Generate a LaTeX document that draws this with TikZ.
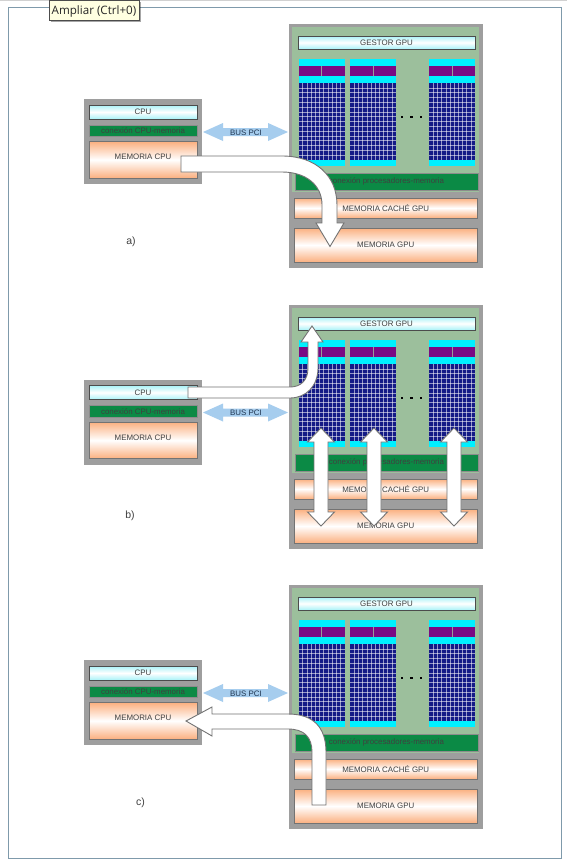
\documentclass[tikz,border=0pt]{standalone}
\usepackage{fontspec}
\setmainfont{Liberation Sans}
\newfontfamily\tipfont{Open Sans}
\usetikzlibrary{shadows}
\definecolor{grayframe}{HTML}{9E9E9E}
\definecolor{gpugreen}{HTML}{9CBF9C}
\definecolor{barGreen}{HTML}{0B8A45}
\definecolor{cyanband}{HTML}{00F0FF}
\definecolor{purpleband}{HTML}{7A0A84}
\definecolor{blueband}{HTML}{141A86}
\definecolor{orangeedge}{HTML}{FBB080}
\definecolor{cyanedge}{HTML}{A9F2F8}
\definecolor{busblue}{HTML}{A6CDEE}
\definecolor{frameblue}{HTML}{7F9AAB}
\definecolor{bustext}{HTML}{1F3550}
\tikzset{
  x=1pt,y=-1pt,
  every node/.style={inner sep=0pt,outer sep=0pt,font=\fontsize{7.9}{8}\selectfont,text=black!75},
  cpubox/.style={draw=black!70,line width=.7pt,top color=cyanedge,bottom color=cyanedge,middle color=white},
  membox/.style={draw=black!55,line width=.7pt,top color=orangeedge,bottom color=orangeedge,middle color=white},
  greenbar/.style={draw=black!45,line width=.5pt,fill=barGreen},
  bigarrow/.style={draw=black!55,line width=.9pt,fill=white,line join=miter},
  busarrow/.style={fill=busblue,draw=none},
  tag/.style={font=\fontsize{10.5}{11}\selectfont,text=black!75},
  dotmark/.style={fill=black,draw=none}
}
% box node: name, x0, y0, x1, y1, style, text
\newcommand{\bx}[7]{\path[#6] (#2,#3) rectangle (#4,#5);\node (#1) at ({(#2+#4)/2},{(#3+#5)/2}) {#7};}
\newcommand{\gpucol}[1]{% x left, width 46
  \fill[cyanband] (#1,59) rectangle ++(46,7);
  \fill[purpleband] (#1,66) rectangle ++(46,10);
  \draw[black!40,line width=.3pt] ({#1+23},66) -- ++(0,10);
  \fill[cyanband] (#1,76) rectangle ++(46,7);
  \fill[blueband] (#1,83) rectangle ++(46,77);
  \fill[cyanband] (#1,160) rectangle ++(46,6);
  \foreach \k in {1,...,10} {\draw[white,opacity=.55,line width=.4pt] ({#1+\k*4.18},83) -- ++(0,77);}
  \foreach \k in {1,...,15} {\draw[white,opacity=.55,line width=.4pt] (#1,{83+\k*4.8}) -- ++(46,0);}
}
\newcommand{\panel}[3]{% #1 suffix, #2 gpu dy, #3 cpu dy
  \begin{scope}[yshift=-#3pt]
    \fill[grayframe] (84,99) rectangle (202,184);
    \bx{cpu#1}{89}{105}{197}{119}{cpubox}{CPU}
    \bx{cc#1}{89}{125}{197}{136.5}{greenbar}{conexión CPU-memoria}
    \path[membox] (89,141.5) rectangle (197,178);
    \node (mc#1) at (143,157) {MEMORIA CPU};
    \path[busarrow] (203,132) -- (223,123) -- (223,128) -- (268,128) -- (268,123) -- (288,132) -- (268,141) -- (268,136) -- (223,136) -- (223,141) -- cycle;
    \node[text=bustext] (bus#1) at (246,132.5) {BUS PCI};
  \end{scope}
  \begin{scope}[yshift=-#2pt]
    \fill[grayframe] (289,24) rectangle (483,268);
    \fill[gpugreen] (292,27) rectangle (479,192);
    \bx{gg#1}{298}{36}{475}{49}{cpubox}{GESTOR GPU}
    \gpucol{298.5}\gpucol{350}\gpucol{429}
    \foreach \dx in {402,411.5,421} {\fill[dotmark] (\dx-1.3,115.7) rectangle ++(2.6,2.6);}
    \bx{cp#1}{295}{173}{478}{190}{greenbar}{conexión procesadores-memoria}
    \bx{mh#1}{294.5}{198}{477}{218}{membox}{MEMORIA CACHÉ GPU}
    \bx{mg#1}{294.5}{228}{477}{262}{membox}{MEMORIA GPU}
  \end{scope}
}
\begin{document}
\begin{tikzpicture}
\useasboundingbox (0,0) rectangle (567,862);
\fill[white] (0,0) rectangle (567,862);
\draw[black!18,line width=1pt] (0,.5) -- (567,.5);
\draw[frameblue,line width=.9pt] (8.5,7.3) rectangle (561.8,858);
\panel{A}{0}{0}
\panel{B}{281}{280.5}
\panel{C}{561}{561}
% a) arrow
\path[bigarrow] (181,156) -- (282,156) .. controls (316,156) and (337,176) .. (337,205) -- (337,223) -- (344,223) -- (330,246.5) -- (316,223) -- (322,223) -- (322,205) .. controls (322,185) and (306,172) .. (282,172) -- (181,172) -- cycle;
% b) arrow
\path[bigarrow] (188,387) -- (290,387) .. controls (301,387) and (308,380) .. (308,368) -- (308,342) -- (301,342) -- (312,326) -- (323,342) -- (318,342) -- (318,368) .. controls (318,386) and (306,398) .. (290,398) -- (188,398) -- cycle;
% b) double arrows
\foreach \cx in {321,374,454} {
  \path[bigarrow] (\cx,428) -- (\cx+13.5,442) -- (\cx+7,442) -- (\cx+7,512) -- (\cx+13.5,512) -- (\cx,526) -- (\cx-13.5,512) -- (\cx-7,512) -- (\cx-7,442) -- (\cx-13.5,442) -- cycle;
}
% c) arrow
\path[bigarrow] (312,805) -- (312,752) .. controls (312,737) and (304,729) .. (288,729) -- (212,729) -- (212,736) -- (186,721) -- (212,707) -- (212,714) -- (288,714) .. controls (314,714) and (326,728) .. (326,752) -- (326,805) -- cycle;
\node[tag] (la) at (131,242) {a)};
\node[tag] (lb) at (130,516) {b)};
\node[tag] (lc) at (140.5,803) {c)};
\path[draw=black!70,line width=.7pt,fill={rgb,255:red,255;green,255;blue,225},drop shadow={shadow xshift=1.5pt,shadow yshift=-1.5pt,opacity=.35,fill=black}] (49,0) rectangle (139,20.5);
\node[font=\tipfont\fontsize{11.6}{12}\selectfont,text=black!85] (tip) at (94,11) {Ampliar (Ctrl+0)};
\end{tikzpicture}
\end{document}
